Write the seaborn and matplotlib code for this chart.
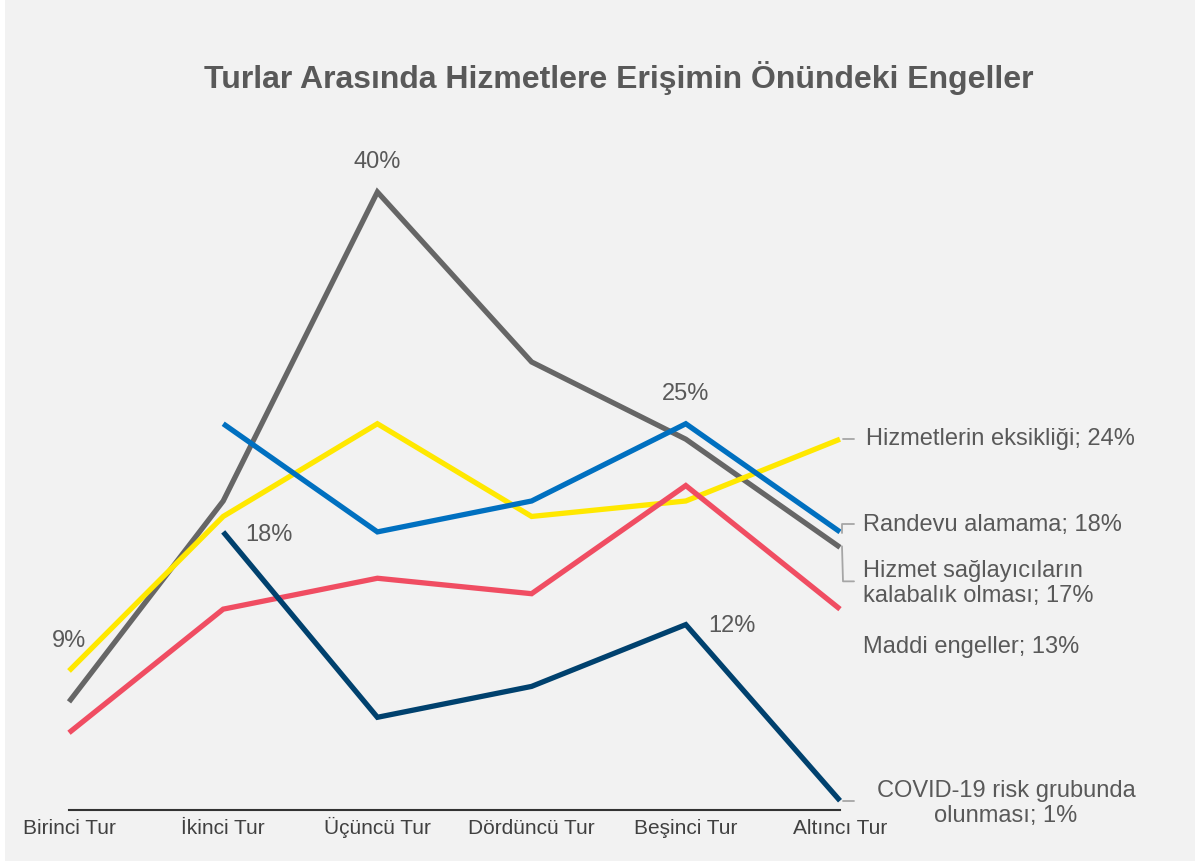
import matplotlib
matplotlib.use("Agg")
import matplotlib.pyplot as plt
from matplotlib.patches import Rectangle
import seaborn as sns
import pandas as pd
import numpy as np

# chart data (percent)
rounds = ["Birinci Tur", "İkinci Tur", "Üçüncü Tur", "Dördüncü Tur", "Beşinci Tur", "Altıncı Tur"]
crowded = [7, 20, 40, 29, 24, 17]
shortage = [9, 19, 25, 19, 20, 24]
appointment = [np.nan, 25, 18, 20, 25, 18]
financial = [5, 13, 15, 14, 21, 13]
covid = [np.nan, 18, 6, 8, 12, 0.6]

series_names = [
    "Hizmet sağlayıcıların kalabalık olması",
    "Hizmetlerin eksikliği",
    "Randevu alamama",
    "Maddi engeller",
    "COVID-19 risk grubunda olunması",
]
end_labels = [
    "Hizmet sağlayıcıların\nkalabalık olması",
    "Hizmetlerin eksikliği",
    "Randevu alamama",
    "Maddi engeller",
    "COVID-19 risk grubunda\nolunması",
]
colors = ["#666666", "#FFE800", "#0070C0", "#F04D62", "#00416E"]
all_values = [crowded, shortage, appointment, financial, covid]

rows = []
for name, vals in zip(series_names, all_values):
    for i, v in enumerate(vals):
        rows.append({"tur": i, "pct": v, "seri": name})
df = pd.DataFrame(rows).dropna()

sns.set_theme(style="white")
plt.rcParams["font.family"] = ["Liberation Sans", "DejaVu Sans"]

fig = plt.figure(figsize=(11.95, 8.61), dpi=100, facecolor="#F2F2F2")
fig.patches.append(Rectangle((0, 0), 5 / 1195, 1, transform=fig.transFigure,
                             facecolor="white", edgecolor="none"))
ax = fig.add_axes([69 / 1195, 51 / 861, 771 / 1195, 0.8075])
ax.set_facecolor("none")

sns.lineplot(data=df, x="tur", y="pct", hue="seri", hue_order=series_names,
             palette=dict(zip(series_names, colors)), linewidth=3.8,
             legend=False, ax=ax, sort=True)
for line in ax.lines:
    line.set_solid_joinstyle("miter")
    line.set_solid_capstyle("butt")
    line.set_clip_on(False)

ax.set_xlim(0, 5)
ax.set_ylim(0, 45)
ax.set_xticks(range(len(rounds)))
ax.set_xticklabels(rounds, fontsize=15, color="#404040", va="baseline")
ax.set_yticks([])
ax.set_xlabel("")
ax.set_ylabel("")
ax.tick_params(axis="x", length=0, pad=17.5)
for s in ["top", "left", "right"]:
    ax.spines[s].set_visible(False)
ax.spines["bottom"].set_color("#333333")
ax.spines["bottom"].set_linewidth(1.5)

lab = dict(fontsize=17, color="#595959")

# point data labels
def point_label(vals, idx, dx, dy, ha):
    ax.annotate(f"{vals[idx]:.0f}%", (idx, vals[idx]), xytext=(dx, dy),
                textcoords="offset pixels", ha=ha, va="center", **lab)

point_label(shortage, 0, 0, 30, "center")
point_label(crowded, 2, 0, 30, "center")
point_label(appointment, 4, 0, 30, "center")
point_label(covid, 1, 22, -3, "left")
point_label(covid, 4, 22, -1, "left")

# end labels with leader lines
last = len(rounds) - 1
lc = dict(color="#A6A6A6", lw=1.3, clip_on=False)
px_x = 5 / 771     # data units per pixel
px_y = 45 / 695

v = shortage[last]
ax.plot([last + 3 * px_x, last + 14 * px_x], [v, v], **lc)
ax.annotate(f"{end_labels[1]}; {v:.0f}%", (last, v), xytext=(26, 0),
            textcoords="offset pixels", ha="left", va="center", **lab)

v = appointment[last]
ax.plot([last + 2 * px_x, last + 2 * px_x, last + 14 * px_x],
        [v - 1 * px_y, v + 8 * px_y, v + 8 * px_y], **lc)
ax.annotate(f"{end_labels[2]}; {v:.0f}%", (last, v), xytext=(23, 7),
            textcoords="offset pixels", ha="left", va="center", **lab)

v = crowded[last]
ax.plot([last + 2 * px_x, last + 3 * px_x, last + 14 * px_x],
        [v + 1 * px_y, v - 34 * px_y, v - 34 * px_y], **lc)
ax.annotate(f"{end_labels[0]}; {v:.0f}%", (last, v), xytext=(23, -36),
            textcoords="offset pixels", ha="left", va="center",
            linespacing=1.15, **lab)

v = financial[last]
ax.annotate(f"{end_labels[3]}; {v:.0f}%", (last, v), xytext=(23, -38),
            textcoords="offset pixels", ha="left", va="center", **lab)

v = covid[last]
ax.plot([last + 3 * px_x, last + 14 * px_x], [v, v], **lc)
ax.annotate(f"{end_labels[4]}; {v:.0f}%", (last, v), xytext=(166, -3),
            textcoords="offset pixels", ha="center", va="center",
            multialignment="center", linespacing=1.15, **lab)

fig.text(0.518, 0.909, "Turlar Arasında Hizmetlere Erişimin Önündeki Engeller",
         ha="center", va="center", fontsize=23, fontweight="bold", color="#595959")

fig.savefig("out.png", dpi=100, facecolor=fig.get_facecolor())
